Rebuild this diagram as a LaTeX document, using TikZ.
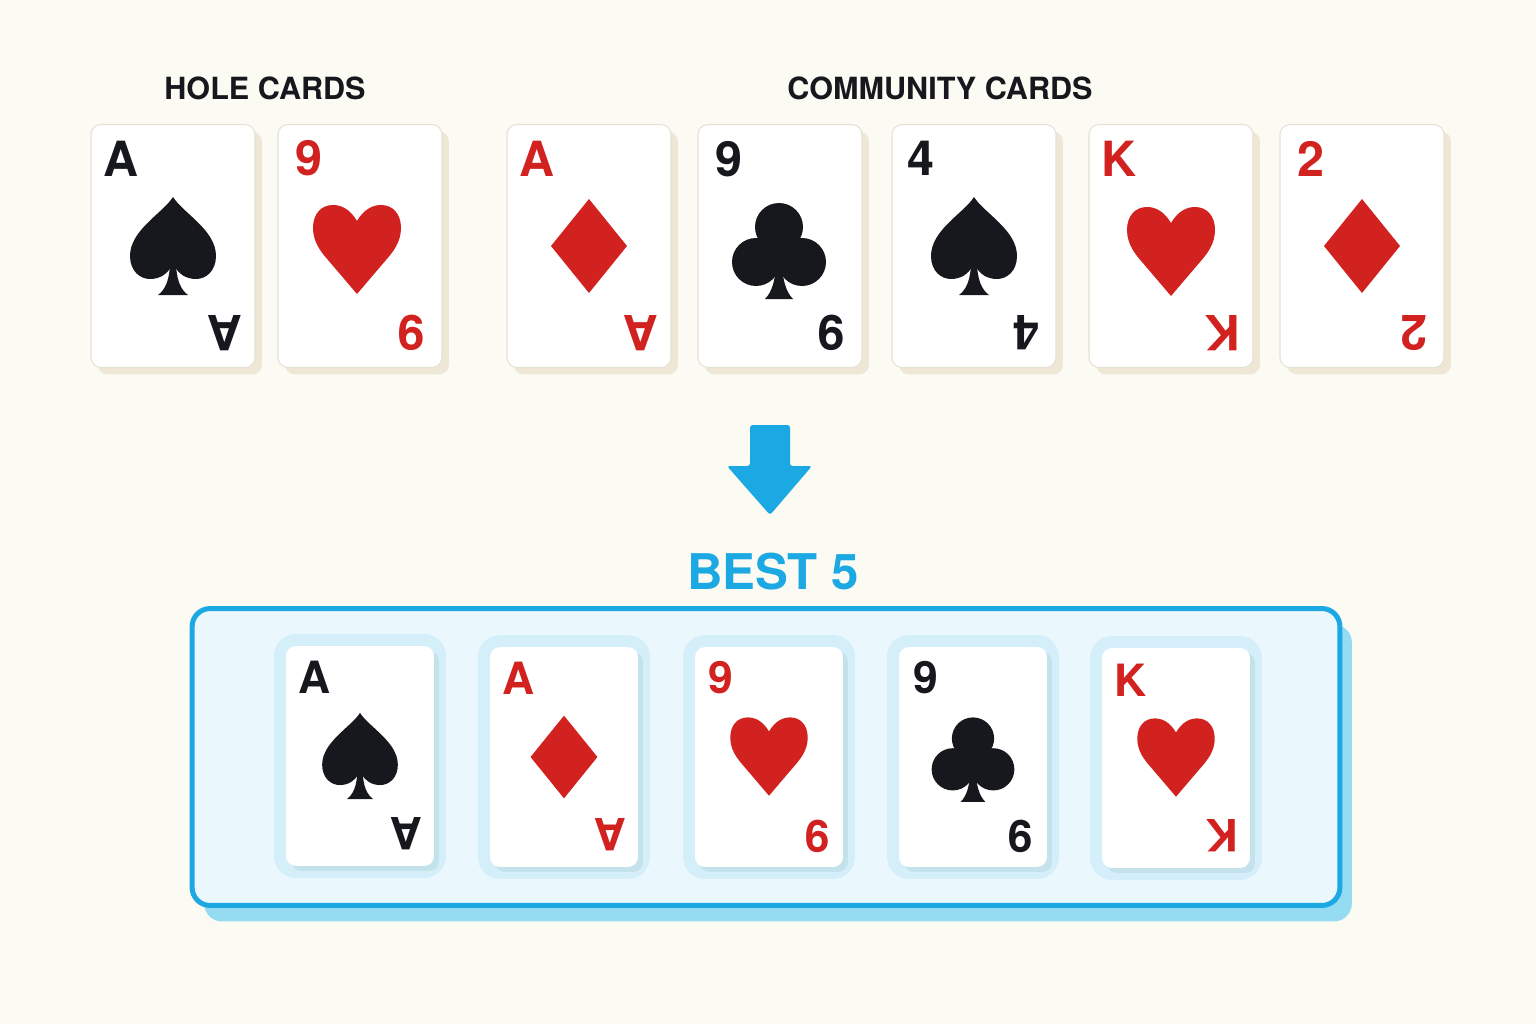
\documentclass[tikz,border=0pt]{standalone}
\usepackage{fontspec}
\setmainfont{TeX Gyre Heros}
\usetikzlibrary{calc,shadows}

\definecolor{paper}{HTML}{FBFAF3}
\definecolor{inkblack}{HTML}{16181E}
\definecolor{suitred}{HTML}{D22220}
\definecolor{cardedge}{HTML}{E6E1D5}
\definecolor{cardshade}{HTML}{EEE7D6}
\definecolor{skyblue}{HTML}{1BA8E3}
\definecolor{boxfill}{HTML}{EAF8FD}
\definecolor{boxshade}{HTML}{95DCF3}
\definecolor{halo}{HTML}{D4EFF9}
\definecolor{lowshade}{HTML}{C3E2EC}

\tikzset{
  heading/.style={font=\fontsize{17.4}{20}\selectfont\bfseries, text=inkblack, inner sep=0pt},
  topcard/.style={rectangle, rounded corners=0.2cm, fill=white, draw=cardedge, line width=0.6pt,
    minimum width=3.28cm, minimum height=4.86cm,
    general shadow={fill=cardshade, shadow xshift=0.14cm, shadow yshift=-0.14cm}},
  lowcard/.style={rectangle, rounded corners=0.2cm, fill=white, draw=none,
    minimum width=2.96cm, minimum height=4.4cm,
    preaction={draw=halo, line width=0.48cm},
    general shadow={fill=lowshade, shadow xshift=0.1cm, shadow yshift=-0.1cm}},
  toprank/.style={font=\fontsize{27.6}{30}\selectfont\bfseries, inner sep=0pt},
  lowrank/.style={font=\fontsize{25.3}{28}\selectfont\bfseries, inner sep=0pt},
  blackink/.style={text=inkblack},
  redink/.style={text=suitred},
  blacksuit/.style={fill=inkblack},
  redsuit/.style={fill=suitred},
  handbox/.style={rectangle, rounded corners=0.36cm, fill=boxfill, draw=skyblue, line width=0.1cm,
    minimum width=22.96cm, minimum height=5.94cm,
    general shadow={fill=boxshade, shadow xshift=0.24cm, shadow yshift=-0.32cm}},
  bestlabel/.style={font=\fontsize{28}{32}\selectfont\bfseries, text=skyblue, inner sep=0pt},
  % suit shapes, drawn in pixel units with y pointing down
  pics/spade/.style={code={
    \fill (0,-49) .. controls (-10,-33) and (-43,-16) .. (-43,10) .. controls (-43,25) and (-33,33) .. (-23,33)
      .. controls (-13,33) and (-6,28) .. (-2,21) -- (2,21) .. controls (6,28) and (13,33) .. (23,33)
      .. controls (33,33) and (43,25) .. (43,10) .. controls (43,-16) and (10,-33) .. (0,-49) -- cycle;
    \fill (-3,15) .. controls (-3,34) and (-8,44) .. (-15,49) -- (15,49) .. controls (8,44) and (3,34) .. (3,15) -- cycle;
  }},
  pics/heart/.style={code={
    \fill (0,-29) .. controls (-7,-41) and (-16,-45) .. (-24,-45) .. controls (-36,-45) and (-44,-36) .. (-44,-22)
      .. controls (-44,-8) and (-36,2) .. (-29,10) -- (0,44) -- (29,10) .. controls (36,2) and (44,-8) .. (44,-22)
      .. controls (44,-36) and (36,-45) .. (24,-45) .. controls (16,-45) and (7,-41) .. (0,-29) -- cycle;
  }},
  pics/diamond/.style={code={
    \fill (0,-47) -- (38,0) -- (0,47) -- (-38,0) -- cycle;
  }},
  pics/club/.style={code={
    \fill (0,-21) circle (24);
    \fill (-23,14) circle (24);
    \fill (23,14) circle (24);
    \fill (-12,-6) rectangle (12,22);
    \fill (-3,10) .. controls (-3,32) and (-7,44) .. (-14,51) -- (14,51) .. controls (7,44) and (3,32) .. (3,10) -- cycle;
  }},
}

\begin{document}
\begin{tikzpicture}[x=0.02cm, y=-0.02cm]
  %%%%% START %%%%%
  \fill[paper] (0,0) rectangle (1536,1024);
  \useasboundingbox (0,0) rectangle (1536,1024);

  \node[heading] (holetitle) at (265,88) {HOLE CARDS};
  \node[heading] (commtitle) at (940,88) {COMMUNITY CARDS};

  % hole cards
  \node[topcard] (h1) at (173,246) {};
  \pic[blacksuit] at (h1.center) {spade};
  \node[toprank, blackink] (h1tl) at ($(h1.north west)+(31,35)$) {A};
  \node[toprank, blackink, rotate=180] (h1br) at ($(h1.south east)+(-31,-35)$) {A};

  \node[topcard] (h2) at (360,246) {};
  \pic[redsuit] at ($(h2.center)+(-3,4)$) {heart};
  \node[toprank, redink] (h2tl) at ($(h2.north west)+(31,34)$) {9};
  \node[toprank, redink, rotate=180] (h2br) at ($(h2.south east)+(-31,-35)$) {9};

  % community cards
  \node[topcard] (c1) at (589,246) {};
  \pic[redsuit] at (c1.center) {diamond};
  \node[toprank, redink] (c1tl) at ($(c1.north west)+(31,35)$) {A};
  \node[toprank, redink, rotate=180] (c1br) at ($(c1.south east)+(-31,-35)$) {A};

  \node[topcard] (c2) at (780,246) {};
  \pic[blacksuit] at ($(c2.center)+(-1,2)$) {club};
  \node[toprank, blackink] (c2tl) at ($(c2.north west)+(31,35)$) {9};
  \node[toprank, blackink, rotate=180] (c2br) at ($(c2.south east)+(-31,-35)$) {9};

  \node[topcard] (c3) at (974,246) {};
  \pic[blacksuit] at (c3.center) {spade};
  \node[toprank, blackink] (c3tl) at ($(c3.north west)+(29,34)$) {4};
  \node[toprank, blackink, rotate=180] (c3br) at ($(c3.south east)+(-31,-35)$) {4};

  \node[topcard] (c4) at (1171,246) {};
  \pic[redsuit] at ($(c4.center)+(0,6)$) {heart};
  \node[toprank, redink] (c4tl) at ($(c4.north west)+(31,35)$) {K};
  \node[toprank, redink, rotate=180] (c4br) at ($(c4.south east)+(-31,-35)$) {K};

  \node[topcard] (c5) at (1362,246) {};
  \pic[redsuit] at (c5.center) {diamond};
  \node[toprank, redink] (c5tl) at ($(c5.north west)+(31,35)$) {2};
  \node[toprank, redink, rotate=180] (c5br) at ($(c5.south east)+(-31,-35)$) {2};

  % arrow down to the best hand
  \coordinate (arrowtop) at (770,425);
  \fill[skyblue, rounded corners=1.5] ($(arrowtop)+(-20,0)$) -- ($(arrowtop)+(20,0)$) -- ($(arrowtop)+(20,41)$)
    -- ($(arrowtop)+(42,41)$) -- ($(arrowtop)+(0,90)$) -- ($(arrowtop)+(-43,41)$) -- ($(arrowtop)+(-20,41)$) -- cycle;

  \node[bestlabel] (bestlabel) at (773,572) {BEST 5};

  \node[handbox] (handbox) at (766,757) {};

  % best five
  \node[lowcard] (b1) at (360,756) {};
  \pic[blacksuit, scale=0.88] at (b1.center) {spade};
  \node[lowrank, blackink] (b1tl) at ($(b1.north west)+(29,32)$) {A};
  \node[lowrank, blackink, rotate=180] (b1br) at ($(b1.south east)+(-28,-33)$) {A};

  \node[lowcard] (b2) at (564,757) {};
  \pic[redsuit, scale=0.88] at (b2.center) {diamond};
  \node[lowrank, redink] (b2tl) at ($(b2.north west)+(29,32)$) {A};
  \node[lowrank, redink, rotate=180] (b2br) at ($(b2.south east)+(-28,-33)$) {A};

  \node[lowcard] (b3) at (769,757) {};
  \pic[redsuit, scale=0.88] at (b3.center) {heart};
  \node[lowrank, redink] (b3tl) at ($(b3.north west)+(26,31)$) {9};
  \node[lowrank, redink, rotate=180] (b3br) at ($(b3.south east)+(-26,-31)$) {9};

  \node[lowcard] (b4) at (973,757) {};
  \pic[blacksuit, scale=0.88] at (b4.center) {club};
  \node[lowrank, blackink] (b4tl) at ($(b4.north west)+(27,31)$) {9};
  \node[lowrank, blackink, rotate=180] (b4br) at ($(b4.south east)+(-27,-31)$) {9};

  \node[lowcard] (b5) at (1176,758) {};
  \pic[redsuit, scale=0.88] at (b5.center) {heart};
  \node[lowrank, redink] (b5tl) at ($(b5.north west)+(29,33)$) {K};
  \node[lowrank, redink, rotate=180] (b5br) at ($(b5.south east)+(-28,-33)$) {K};
  %%%%% END %%%%%
\end{tikzpicture}
\end{document}
